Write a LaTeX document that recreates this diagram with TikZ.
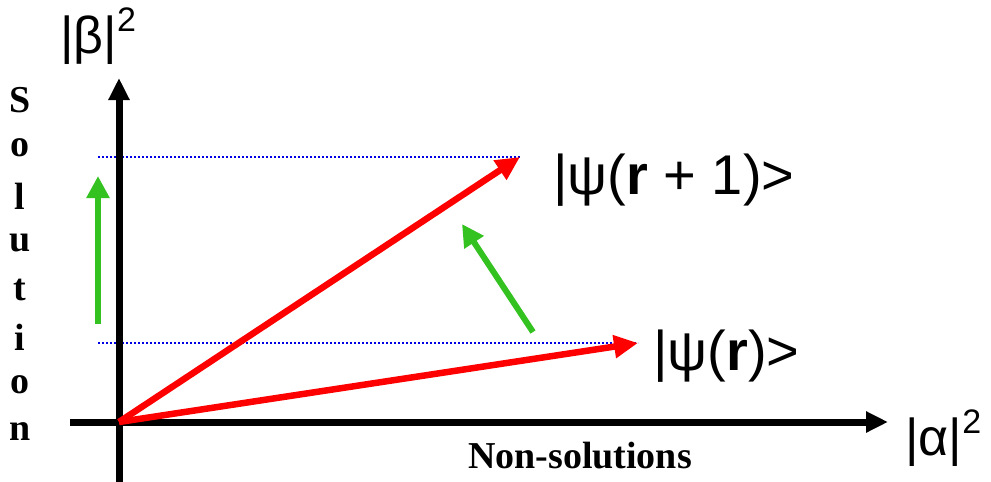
\documentclass[tikz,border=0pt]{standalone}
\usepackage{fontspec}
\setmainfont{Liberation Serif}
\newfontfamily\lsans{Liberation Sans}
\usetikzlibrary{arrows.meta}
\definecolor{vred}{RGB}{255,0,0}
\definecolor{vgreen}{RGB}{51,194,31}
\definecolor{vblue}{RGB}{0,0,230}
\begin{document}
\begin{tikzpicture}[x=1pt,y=-1pt,
  axis/.style={line width=7pt,-{Triangle[length=22pt,width=20pt]}},
  vec/.style={line width=6.5pt,draw=vred,-{Triangle[length=24pt,width=22pt]}},
  move/.style={line width=6pt,draw=vgreen,-{Triangle[length=22pt,width=22pt]}},
  guide/.style={vblue,line width=2pt,dash pattern=on 2pt off 2pt},
  lab/.style={font=\lsans\fontsize{56}{62}\selectfont,inner sep=0pt,anchor=west},
  axl/.style={font=\lsans\fontsize{52}{58}\selectfont,inner sep=0pt,anchor=west},
  ser/.style={font=\bfseries\fontsize{38}{42}\selectfont,inner sep=0pt}]
\useasboundingbox (0,0) rectangle (991,482);
\coordinate (O) at (119,422);
\coordinate (xs) at (70,422);
\coordinate (xe) at (888,422);
\coordinate (ys) at (119,482);
\coordinate (ye) at (119,78);
\coordinate (P1) at (520,157);
\coordinate (P0) at (638,343);
\coordinate (g1s) at (98,324);
\coordinate (g1e) at (98,176);
\coordinate (g2s) at (533,332);
\coordinate (g2e) at (462,224);
\coordinate (d1s) at (98,157);
\coordinate (d0s) at (98,343);
\draw[guide] (d1s) -- (P1);
\draw[guide] (d0s) -- (P0);
\draw[axis] (xs) -- (xe);
\draw[axis] (ys) -- (ye);
\draw[vec] (O) -- (P1);
\draw[vec] (O) -- (P0);
\draw[move] (g1s) -- (g1e);
\draw[move] (g2s) -- (g2e);
\node[lab] (l1) at (553,180) {|ψ(\textbf{r} + 1)>};
\node[lab] (l0) at (653,356) {|ψ(\textbf{r})>};
\node[axl] (lb) at (60,36) {|β|\raisebox{0.42em}{\fontsize{34}{38}\selectfont 2}};
\node[axl] (la) at (905,438) {|α|\raisebox{0.42em}{\fontsize{34}{38}\selectfont 2}};
\node[ser] (ns) at (580,456) {Non-solutions};
\foreach \c/\y [count=\i] in {S/100,o/148,l/196,u/243,t/290,i/337,o/385,n/432}
  \node[ser] (s\i) at (20,\y) {\c};
\end{tikzpicture}
\end{document}
